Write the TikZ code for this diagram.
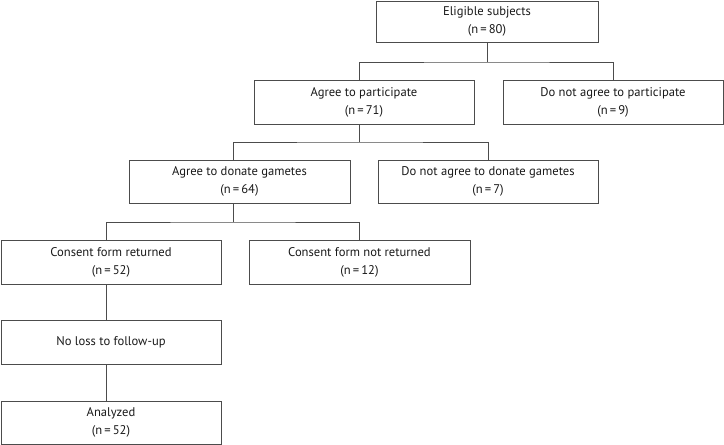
\documentclass[tikz,border=0pt]{standalone}
\usepackage{fontspec}
\setmainfont{PT Sans}

\begin{document}
\begin{tikzpicture}[x=1pt,y=-1pt,font=\fontsize{12.6}{18}\selectfont,
  box/.style={draw=black!70, line width=.8pt, text=black!90, align=center,
    minimum width=220pt, minimum height=44pt, inner sep=0pt},
  link/.style={draw=black!70, line width=.8pt}]

\useasboundingbox (0,0) rectangle (724,445);

% boxes
\node[box, minimum width=222pt, minimum height=41pt] (elig) at (487,21.5) {Eligible subjects\\(n\,=\,80)};

\node[box] (agree) at (364,102) {Agree to participate\\(n\,=\,71)};
\node[box] (nopart) at (613,102) {Do not agree to participate\\(n\,=\,9)};

\node[box, minimum width=221pt, minimum height=43pt] (donate) at (239.5,181.5) {Agree to donate gametes\\(n\,=\,64)};
\node[box, minimum height=43pt] (nodonate) at (488,181.5) {Do not agree to donate gametes\\(n\,=\,7)};

\node[box] (returned) at (111,262) {Consent form returned\\(n\,=\,52)};
\node[box, minimum width=221pt] (notret) at (359.5,262) {Consent form not returned\\(n\,=\,12)};

\node[box] (noloss) at (111,342) {No loss to follow-up};
\node[box, minimum height=43pt] (analyzed) at (111,422.5) {Analyzed\\(n\,=\,52)};

% connectors
\coordinate (j1) at (487,62);
\coordinate (j2) at (359,142);
\coordinate (j3) at (233,222);

\draw[link] (elig.south) -- (j1);
\draw[link] ([xshift=-5pt]agree.north) |- (j1) -| (nopart.north);

\draw[link] ([xshift=-5pt]agree.south) -- (j2);
\draw[link] ([xshift=-6.5pt]donate.north) |- (j2) -| (nodonate.north);

\draw[link] ([xshift=-6.5pt]donate.south) -- (j3);
\draw[link] ([xshift=-5pt]returned.north) |- (j3) -| (notret.north);

\draw[link] ([xshift=-5pt]returned.south) -- ([xshift=-5pt]noloss.north);
\draw[link] ([xshift=-5pt]noloss.south) -- ([xshift=-5pt]analyzed.north);

\end{tikzpicture}
\end{document}
